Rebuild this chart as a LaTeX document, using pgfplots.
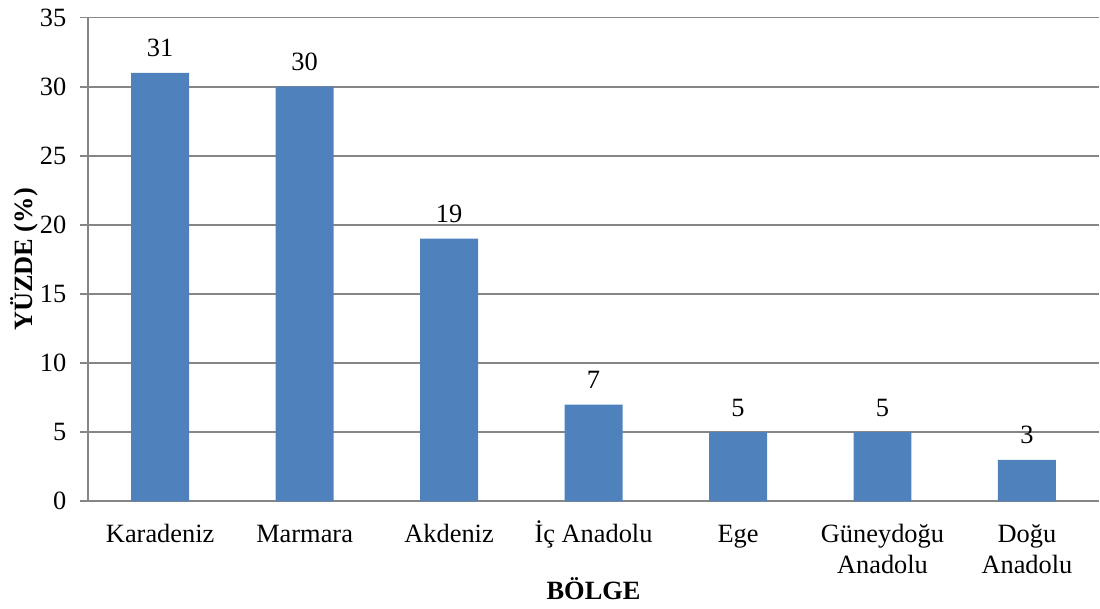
\documentclass[border=0pt]{standalone}
\usepackage{fontspec}
\setmainfont{Liberation Serif}
\usepackage{pgfplots}
\pgfplotsset{compat=1.18}
\definecolor{barblue}{RGB}{79,129,189}
\definecolor{gridgray}{RGB}{134,134,134}

\begin{document}
\fontsize{19.8}{23}\selectfont
\begin{tikzpicture}
\begin{axis}[
    scale only axis,
    width=759pt, height=363pt,
    xmin=-0.5, xmax=6.5,
    ymin=0, ymax=35,
    ytick={0,5,...,35},
    xtick={0,...,6},
    xticklabels={\vphantom{İ}Karadeniz, \vphantom{İ}Marmara, \vphantom{İ}Akdeniz, İç Anadolu, \vphantom{İ}Ege, {\vphantom{İ}Güneydoğu\\Anadolu}, {\vphantom{İ}Doğu\\Anadolu}},
    axis x line*=bottom, axis y line*=left,
    axis line style={gridgray, line width=1.25pt},
    ymajorgrids, grid style={gridgray, line width=1.25pt},
    x tick style={draw=none},
    y tick style={gridgray, line width=1.25pt},
    tick align=outside, major tick length=6pt,
    tick label style={font=\fontsize{19.8}{23.5}\selectfont},
    /pgf/number format/assume math mode=true,
    x tick label style={align=center, anchor=north, yshift=-1.5pt},
    y tick label style={xshift=-3.5pt},
    ybar, bar width=43.5pt,
    nodes near coords,
    every node near coord/.append style={font=\fontsize{19.8}{23}\selectfont, yshift=5pt},
    ylabel={\textbf{YÜZDE (\%)}},
    xlabel={\textbf{BÖLGE}},
    y label style={at={(axis description cs:-0.063,0.5)}, anchor=center, rotate=0},
    x label style={at={(axis description cs:0.5,-0.1798)}, anchor=center},
    clip=false,
]
\addplot[fill=barblue, draw=none] coordinates {(0,31) (1,30) (2,19) (3,7) (4,5) (5,5) (6,3)};
\end{axis}
\useasboundingbox (-66pt,-76.5pt) rectangle (759pt,375.75pt);
\end{tikzpicture}
\end{document}
